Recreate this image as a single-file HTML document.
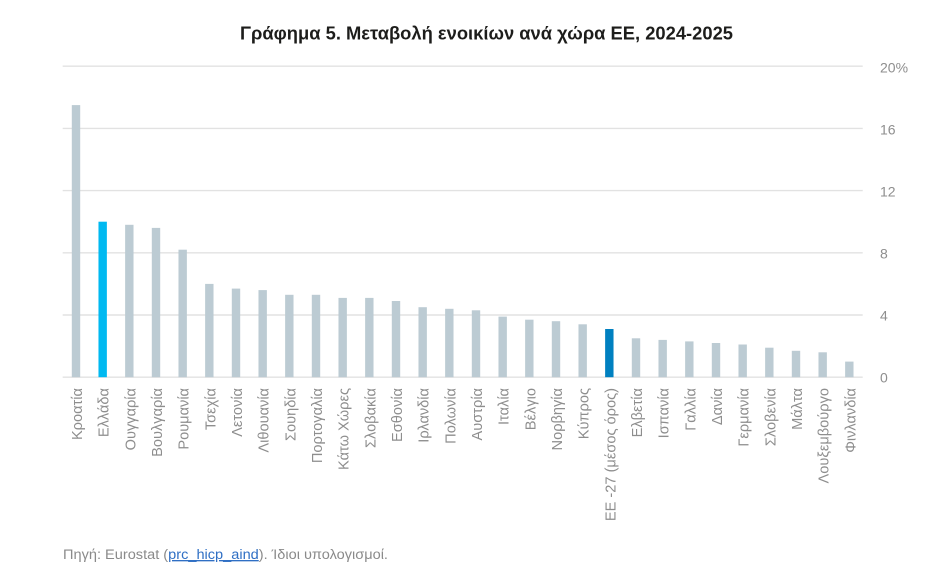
<!DOCTYPE html>
<html>
<head>
<meta charset="utf-8">
<style>
html,body{margin:0;padding:0;background:#fff;}
svg{display:block;}
text{font-family:"Liberation Sans","DejaVu Sans",sans-serif;}
</style>
</head>
<body>
<svg width="935" height="581" viewBox="0 0 935 581" xmlns="http://www.w3.org/2000/svg">
<rect width="935" height="581" fill="#fff"/>
<text x="486.5" y="39.5" text-anchor="middle" font-size="18.5" font-weight="bold" fill="#1d1d1b" textLength="493" lengthAdjust="spacingAndGlyphs">Γράφημα 5. Μεταβολή ενοικίων ανά χώρα ΕΕ, 2024-2025</text>

<g stroke="#e2e2e2" stroke-width="1.4">
<line x1="62.7" y1="66.2" x2="862.7" y2="66.2"/>
<line x1="62.7" y1="128.4" x2="862.7" y2="128.4"/>
<line x1="62.7" y1="190.6" x2="862.7" y2="190.6"/>
<line x1="62.7" y1="252.8" x2="862.7" y2="252.8"/>
<line x1="62.7" y1="315.0" x2="862.7" y2="315.0"/>
<line x1="62.7" y1="377.2" x2="862.7" y2="377.2"/>
</g>

<g font-size="14" fill="#8e8e8e">
<text x="880" y="72.5">20%</text>
<text x="880" y="134.5">16</text>
<text x="880" y="196.5">12</text>
<text x="880" y="258.5">8</text>
<text x="880" y="320.5">4</text>
<text x="880" y="382.5">0</text>
</g>

<g fill="#bccbd3">
<rect x="71.8" y="105.1" width="8.4" height="272.1"/>
<rect x="98.47" y="221.7" width="8.4" height="155.5" fill="#00b9f1"/>
<rect x="125.13" y="224.8" width="8.4" height="152.4"/>
<rect x="151.8" y="227.9" width="8.4" height="149.3"/>
<rect x="178.47" y="249.7" width="8.4" height="127.5"/>
<rect x="205.13" y="283.9" width="8.4" height="93.3"/>
<rect x="231.8" y="288.6" width="8.4" height="88.6"/>
<rect x="258.47" y="290.1" width="8.4" height="87.1"/>
<rect x="285.13" y="294.8" width="8.4" height="82.4"/>
<rect x="311.8" y="294.8" width="8.4" height="82.4"/>
<rect x="338.47" y="297.9" width="8.4" height="79.3"/>
<rect x="365.13" y="297.9" width="8.4" height="79.3"/>
<rect x="391.8" y="301.0" width="8.4" height="76.2"/>
<rect x="418.47" y="307.2" width="8.4" height="70.0"/>
<rect x="445.13" y="308.8" width="8.4" height="68.4"/>
<rect x="471.8" y="310.3" width="8.4" height="66.9"/>
<rect x="498.47" y="316.6" width="8.4" height="60.6"/>
<rect x="525.13" y="319.7" width="8.4" height="57.5"/>
<rect x="551.8" y="321.2" width="8.4" height="56.0"/>
<rect x="578.47" y="324.3" width="8.4" height="52.9"/>
<rect x="605.13" y="329.0" width="8.4" height="48.2" fill="#0080c0"/>
<rect x="631.8" y="338.3" width="8.4" height="38.9"/>
<rect x="658.47" y="339.9" width="8.4" height="37.3"/>
<rect x="685.13" y="341.4" width="8.4" height="35.8"/>
<rect x="711.8" y="343.0" width="8.4" height="34.2"/>
<rect x="738.47" y="344.5" width="8.4" height="32.7"/>
<rect x="765.13" y="347.7" width="8.4" height="29.5"/>
<rect x="791.8" y="350.8" width="8.4" height="26.4"/>
<rect x="818.47" y="352.3" width="8.4" height="24.9"/>
<rect x="845.13" y="361.6" width="8.4" height="15.6"/>
</g>

<g font-size="14.6" fill="#8e8e8e" text-anchor="end">
<text transform="translate(82,388) rotate(-90)">Κροατία</text>
<text transform="translate(108.67,388) rotate(-90)">Ελλάδα</text>
<text transform="translate(135.33,388) rotate(-90)">Ουγγαρία</text>
<text transform="translate(162,388) rotate(-90)">Βουλγαρία</text>
<text transform="translate(188.67,388) rotate(-90)">Ρουμανία</text>
<text transform="translate(215.33,388) rotate(-90)">Τσεχία</text>
<text transform="translate(242,388) rotate(-90)">Λετονία</text>
<text transform="translate(268.67,388) rotate(-90)">Λιθουανία</text>
<text transform="translate(295.33,388) rotate(-90)">Σουηδία</text>
<text transform="translate(322,388) rotate(-90)">Πορτογαλία</text>
<text transform="translate(348.67,388) rotate(-90)">Κάτω Χώρες</text>
<text transform="translate(375.33,388) rotate(-90)">Σλοβακία</text>
<text transform="translate(402,388) rotate(-90)">Εσθονία</text>
<text transform="translate(428.67,388) rotate(-90)">Ιρλανδία</text>
<text transform="translate(455.33,388) rotate(-90)">Πολωνία</text>
<text transform="translate(482,388) rotate(-90)">Αυστρία</text>
<text transform="translate(508.67,388) rotate(-90)">Ιταλία</text>
<text transform="translate(535.33,388) rotate(-90)">Βέλγιο</text>
<text transform="translate(562,388) rotate(-90)">Νορβηγία</text>
<text transform="translate(588.67,388) rotate(-90)">Κύπρος</text>
<text transform="translate(615.33,388) rotate(-90)">ΕΕ -27 (μέσος όρος)</text>
<text transform="translate(642,388) rotate(-90)">Ελβετία</text>
<text transform="translate(668.67,388) rotate(-90)">Ισπανία</text>
<text transform="translate(695.33,388) rotate(-90)">Γαλλία</text>
<text transform="translate(722,388) rotate(-90)">Δανία</text>
<text transform="translate(748.67,388) rotate(-90)">Γερμανία</text>
<text transform="translate(775.33,388) rotate(-90)">Σλοβενία</text>
<text transform="translate(802,388) rotate(-90)">Μάλτα</text>
<text transform="translate(828.67,388) rotate(-90)">Λουξεμβούργο</text>
<text transform="translate(855.33,388) rotate(-90)">Φινλανδία</text>
</g>

<text x="63" y="559" font-size="13.5" fill="#8a8a8a" textLength="325" lengthAdjust="spacingAndGlyphs">Πηγή: Eurostat (<tspan fill="#2f6fc4" text-decoration="underline">prc_hicp_aind</tspan>). Ίδιοι υπολογισμοί.</text>
</svg>
</body>
</html>
